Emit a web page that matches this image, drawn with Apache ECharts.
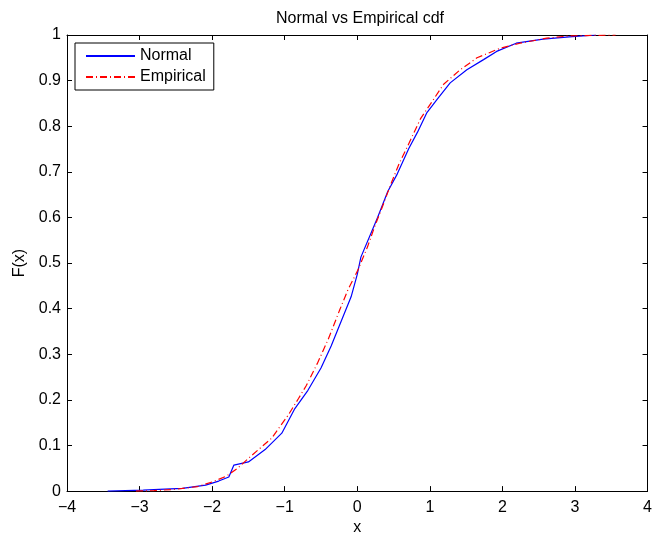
<!DOCTYPE html>
<html>
<head>
<meta charset="utf-8">
<script src="https://cdn.jsdelivr.net/npm/echarts@6/dist/echarts.min.js"></script>
<style>
  html, body { margin: 0; padding: 0; background: #fff; }
  #chart { width: 655px; height: 541px; }
</style>
</head>
<body>
<div id="chart"></div>
<script>
// values
const normalX = [-3.44, -2.95, -2.73, -2.41, -2.09, -1.91, -1.77, -1.70, -1.50, -1.27, -1.04, -0.86, -0.68, -0.50, -0.36, -0.085, 0.0, 0.05, 0.28, 0.42, 0.55, 0.71, 0.83, 0.96, 1.10, 1.28, 1.51, 1.74, 1.92, 2.19, 2.56, 2.92, 3.29]
const normalF = [0, 0.002, 0.004, 0.006, 0.013, 0.022, 0.031, 0.057, 0.064, 0.091, 0.127, 0.181, 0.221, 0.270, 0.318, 0.426, 0.475, 0.513, 0.600, 0.657, 0.695, 0.751, 0.787, 0.830, 0.859, 0.895, 0.924, 0.946, 0.964, 0.982, 0.991, 0.996, 1.0]

const empX = [-3.05, -2.8, -2.5, -2.2, -2.0, -1.8, -1.65, -1.47, -1.18, -0.95, -0.81, -0.70, -0.55, -0.40, -0.24, -0.13, 0.007, 0.14, 0.235, 0.35, 0.46, 0.58, 0.69, 0.87, 1.19, 1.42, 1.65, 1.97, 2.24, 2.61, 2.92, 3.56]
const empF = [0, 0.001, 0.004, 0.01, 0.02, 0.033, 0.05, 0.076, 0.116, 0.167, 0.203, 0.232, 0.280, 0.333, 0.398, 0.441, 0.484, 0.535, 0.578, 0.625, 0.672, 0.719, 0.755, 0.816, 0.892, 0.924, 0.95, 0.971, 0.982, 0.993, 0.998, 1.0]

const xTicks = [-4, -3, -2, -1, 0, 1, 2, 3, 4]
const yTicks = [0, 0.1, 0.2, 0.3, 0.4, 0.5, 0.6, 0.7, 0.8, 0.9, 1]

const font = 'Liberation Sans, Arial, sans-serif'
const chart = echarts.init(document.getElementById('chart'))

const tickStyle = { show: true, inside: true, length: 5, lineStyle: { color: '#000', width: 1 } }
const lineStyle = { show: true, onZero: false, lineStyle: { color: '#000', width: 1 } }

chart.setOption({
  animation: false,
  title: {
    text: 'Normal vs Empirical cdf',
    left: 271,
    top: 6,
    textStyle: { fontFamily: font, fontSize: 16, fontWeight: 'normal', color: '#000' }
  },
  legend: {
    orient: 'vertical',
    left: 75,
    top: 43,
    padding: [5, 8, 5, 10],
    itemWidth: 49,
    itemHeight: 14,
    itemGap: 5,
    borderColor: '#000',
    borderWidth: 1,
    backgroundColor: '#fff',
    itemStyle: { opacity: 0 },
    textStyle: { fontFamily: font, fontSize: 16, color: '#000', lineHeight: 16 },
    data: ['Normal', 'Empirical']
  },
  grid: { left: 67, right: 3, top: 35, bottom: 44 },
  xAxis: [
    {
      type: 'value', min: -4, max: 4, interval: 1,
      name: 'x', nameLocation: 'middle', nameGap: 26,
      nameTextStyle: { fontFamily: font, fontSize: 16, color: '#000' },
      axisLine: lineStyle, axisTick: tickStyle, splitLine: { show: false },
      axisLabel: {
        margin: 8, fontFamily: font, fontSize: 16, color: '#000',
        formatter: v => xTicks.includes(v) ? String(v).replace('-', '\u2212') : ''
      }
    },
    {
      type: 'value', min: -4, max: 4, interval: 1, position: 'top',
      axisLine: lineStyle, axisTick: tickStyle, splitLine: { show: false },
      axisLabel: { show: false }
    }
  ],
  yAxis: [
    {
      type: 'value', min: 0, max: 1, interval: 0.1, position: 'left',
      name: 'F(x)', nameLocation: 'middle', nameGap: 36, nameRotate: 90,
      nameTextStyle: { fontFamily: font, fontSize: 16, color: '#000' },
      axisLine: lineStyle, axisTick: tickStyle, splitLine: { show: false },
      axisLabel: {
        margin: 6, fontFamily: font, fontSize: 16, color: '#000',
        formatter: v => {
          const t = yTicks.find(k => Math.abs(k - v) < 1e-9)
          return t === undefined ? '' : String(t)
        }
      }
    },
    {
      type: 'value', min: 0, max: 1, interval: 0.1, position: 'right',
      axisLine: lineStyle, axisTick: tickStyle, splitLine: { show: false },
      axisLabel: { show: false }
    }
  ],
  series: [
    {
      name: 'Normal',
      type: 'line',
      symbol: 'none',
      color: '#0000ff',
      xAxisIndex: 0,
      yAxisIndex: 0,
      lineStyle: { color: '#0000ff', width: 1.2 },
      data: normalX.map((x, i) => [x, normalF[i]])
    },
    {
      name: 'Empirical',
      type: 'line',
      symbol: 'none',
      color: '#ff0000',
      xAxisIndex: 0,
      yAxisIndex: 0,
      lineStyle: { color: '#ff0000', width: 1.2, type: [7, 3, 1, 3] },
      data: empX.map((x, i) => [x, empF[i]])
    }
  ]
})
</script>
</body>
</html>
